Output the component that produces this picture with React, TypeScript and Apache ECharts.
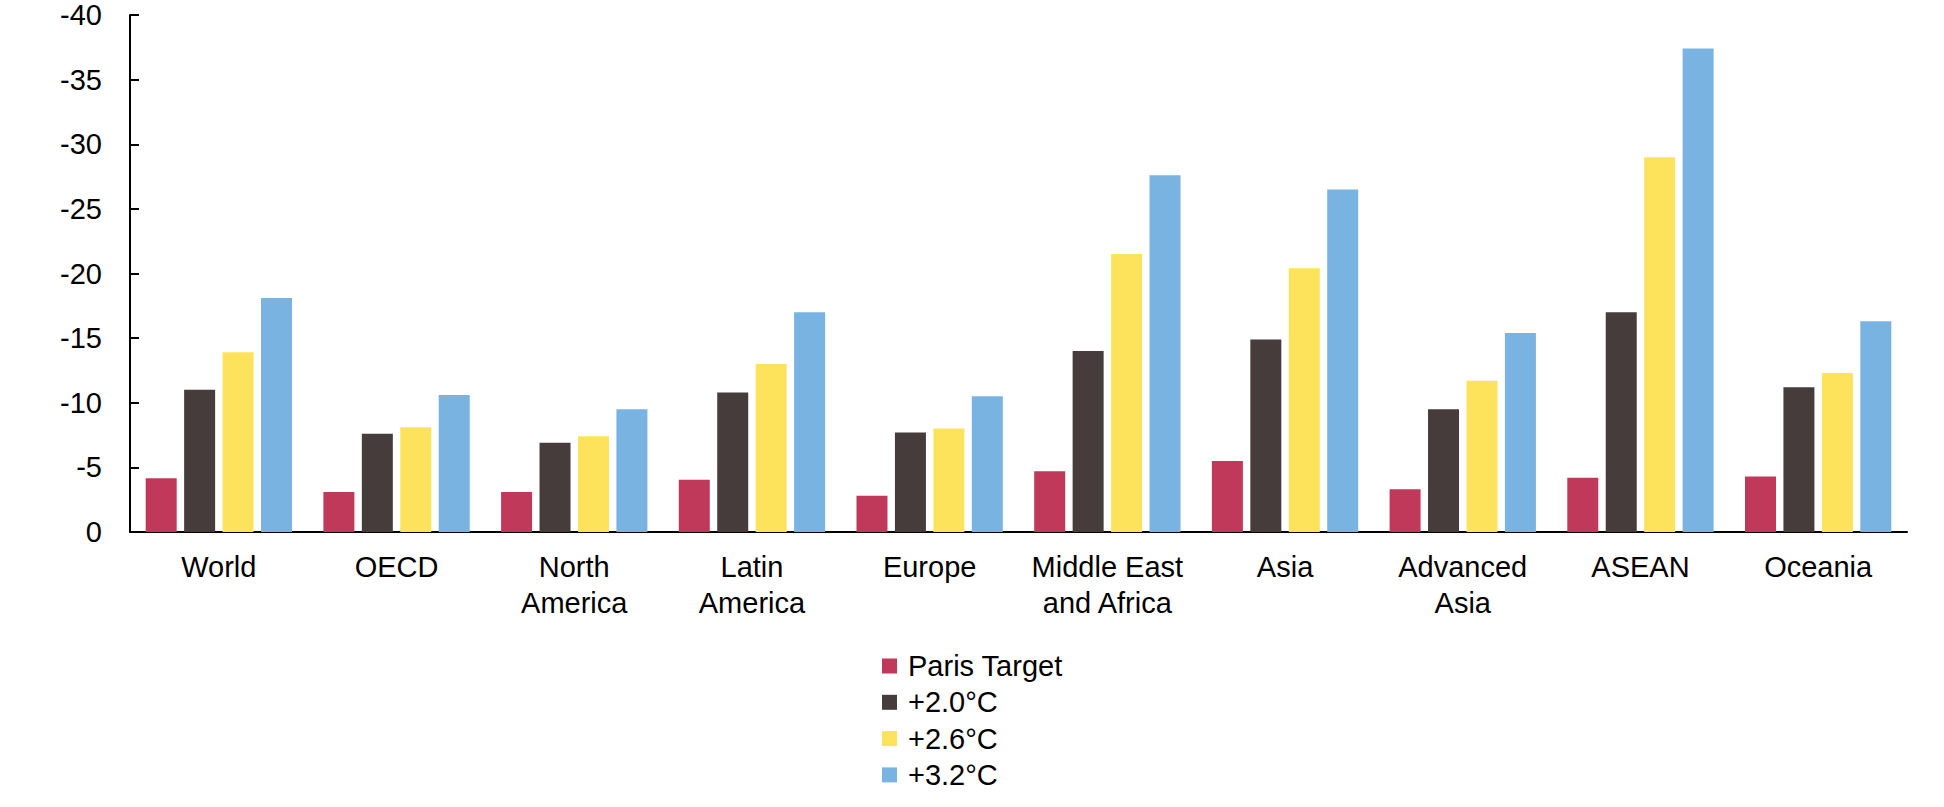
import React, { useEffect, useRef } from "react";
import * as echarts from "echarts";

const categories = [
  "World",
  "OECD",
  "North\nAmerica",
  "Latin\nAmerica",
  "Europe",
  "Middle East\nand Africa",
  "Asia",
  "Advanced\nAsia",
  "ASEAN",
  "Oceania",
];

const seriesNames = ["Paris Target", "+2.0°C", "+2.6°C", "+3.2°C"];
const seriesColors = ["#C0395A", "#463C3B", "#FCE35B", "#78B3E2"];

const parisTarget = [-4.15, -3.1, -3.1, -4.05, -2.8, -4.7, -5.5, -3.3, -4.2, -4.3];
const plus20 = [-11.0, -7.6, -6.9, -10.8, -7.7, -14.0, -14.9, -9.5, -17.0, -11.2];
const plus26 = [-13.9, -8.1, -7.4, -13.0, -8.0, -21.5, -20.4, -11.7, -29.0, -12.3];
const plus32 = [-18.1, -10.6, -9.5, -17.0, -10.5, -27.6, -26.5, -15.4, -37.4, -16.3];

const yTicks = { min: -40, max: 0, interval: 5 };

const FONT = "'Liberation Sans', Arial, sans-serif";

export default function App() {
  const ref = useRef<HTMLDivElement>(null);

  useEffect(() => {
    if (!ref.current) return;
    const chart = echarts.init(ref.current, undefined, { renderer: "svg" });
    const dataSets = [parisTarget, plus20, plus26, plus32];
    chart.setOption({
      animation: false,
      backgroundColor: "#ffffff",
      textStyle: { fontFamily: FONT },
      grid: { left: 130, right: 37, top: 15, bottom: 275, containLabel: false },
      legend: {
        orient: "vertical",
        left: 877,
        top: 646,
        itemWidth: 15,
        itemHeight: 15,
        itemGap: 6.3,
        icon: "rect",
        data: seriesNames,
        textStyle: {
          fontFamily: FONT,
          fontSize: 29,
          color: "#000000",
          lineHeight: 30,
          padding: [0, 0, 0, 6],
        },
      },
      xAxis: {
        type: "category",
        data: categories,
        boundaryGap: true,
        axisLine: { onZero: false, lineStyle: { color: "#000000", width: 2 } },
        axisTick: { inside: true, length: 9, lineStyle: { color: "#000000", width: 2 } },
        axisLabel: {
          interval: 0,
          margin: 17,
          fontFamily: FONT,
          fontSize: 29,
          lineHeight: 36,
          color: "#000000",
        },
        splitLine: { show: false },
      },
      yAxis: {
        type: "value",
        inverse: true,
        min: yTicks.min,
        max: yTicks.max,
        interval: yTicks.interval,
        axisLine: { show: true, lineStyle: { color: "#000000", width: 2 } },
        axisTick: { show: true, inside: true, length: 9, lineStyle: { color: "#000000", width: 2 } },
        axisLabel: {
          margin: 28,
          fontFamily: FONT,
          fontSize: 29,
          color: "#000000",
        },
        splitLine: { show: false },
      },
      series: seriesNames.map((name, i) => ({
        name,
        type: "bar",
        data: dataSets[i],
        barWidth: 31,
        barGap: "24%",
        itemStyle: { color: seriesColors[i] },
      })),
    });
    return () => chart.dispose();
  }, []);

  return (
    <div
      ref={ref}
      style={{ position: "fixed", left: 0, top: 0, width: 1944, height: 807 }}
    />
  );
}
